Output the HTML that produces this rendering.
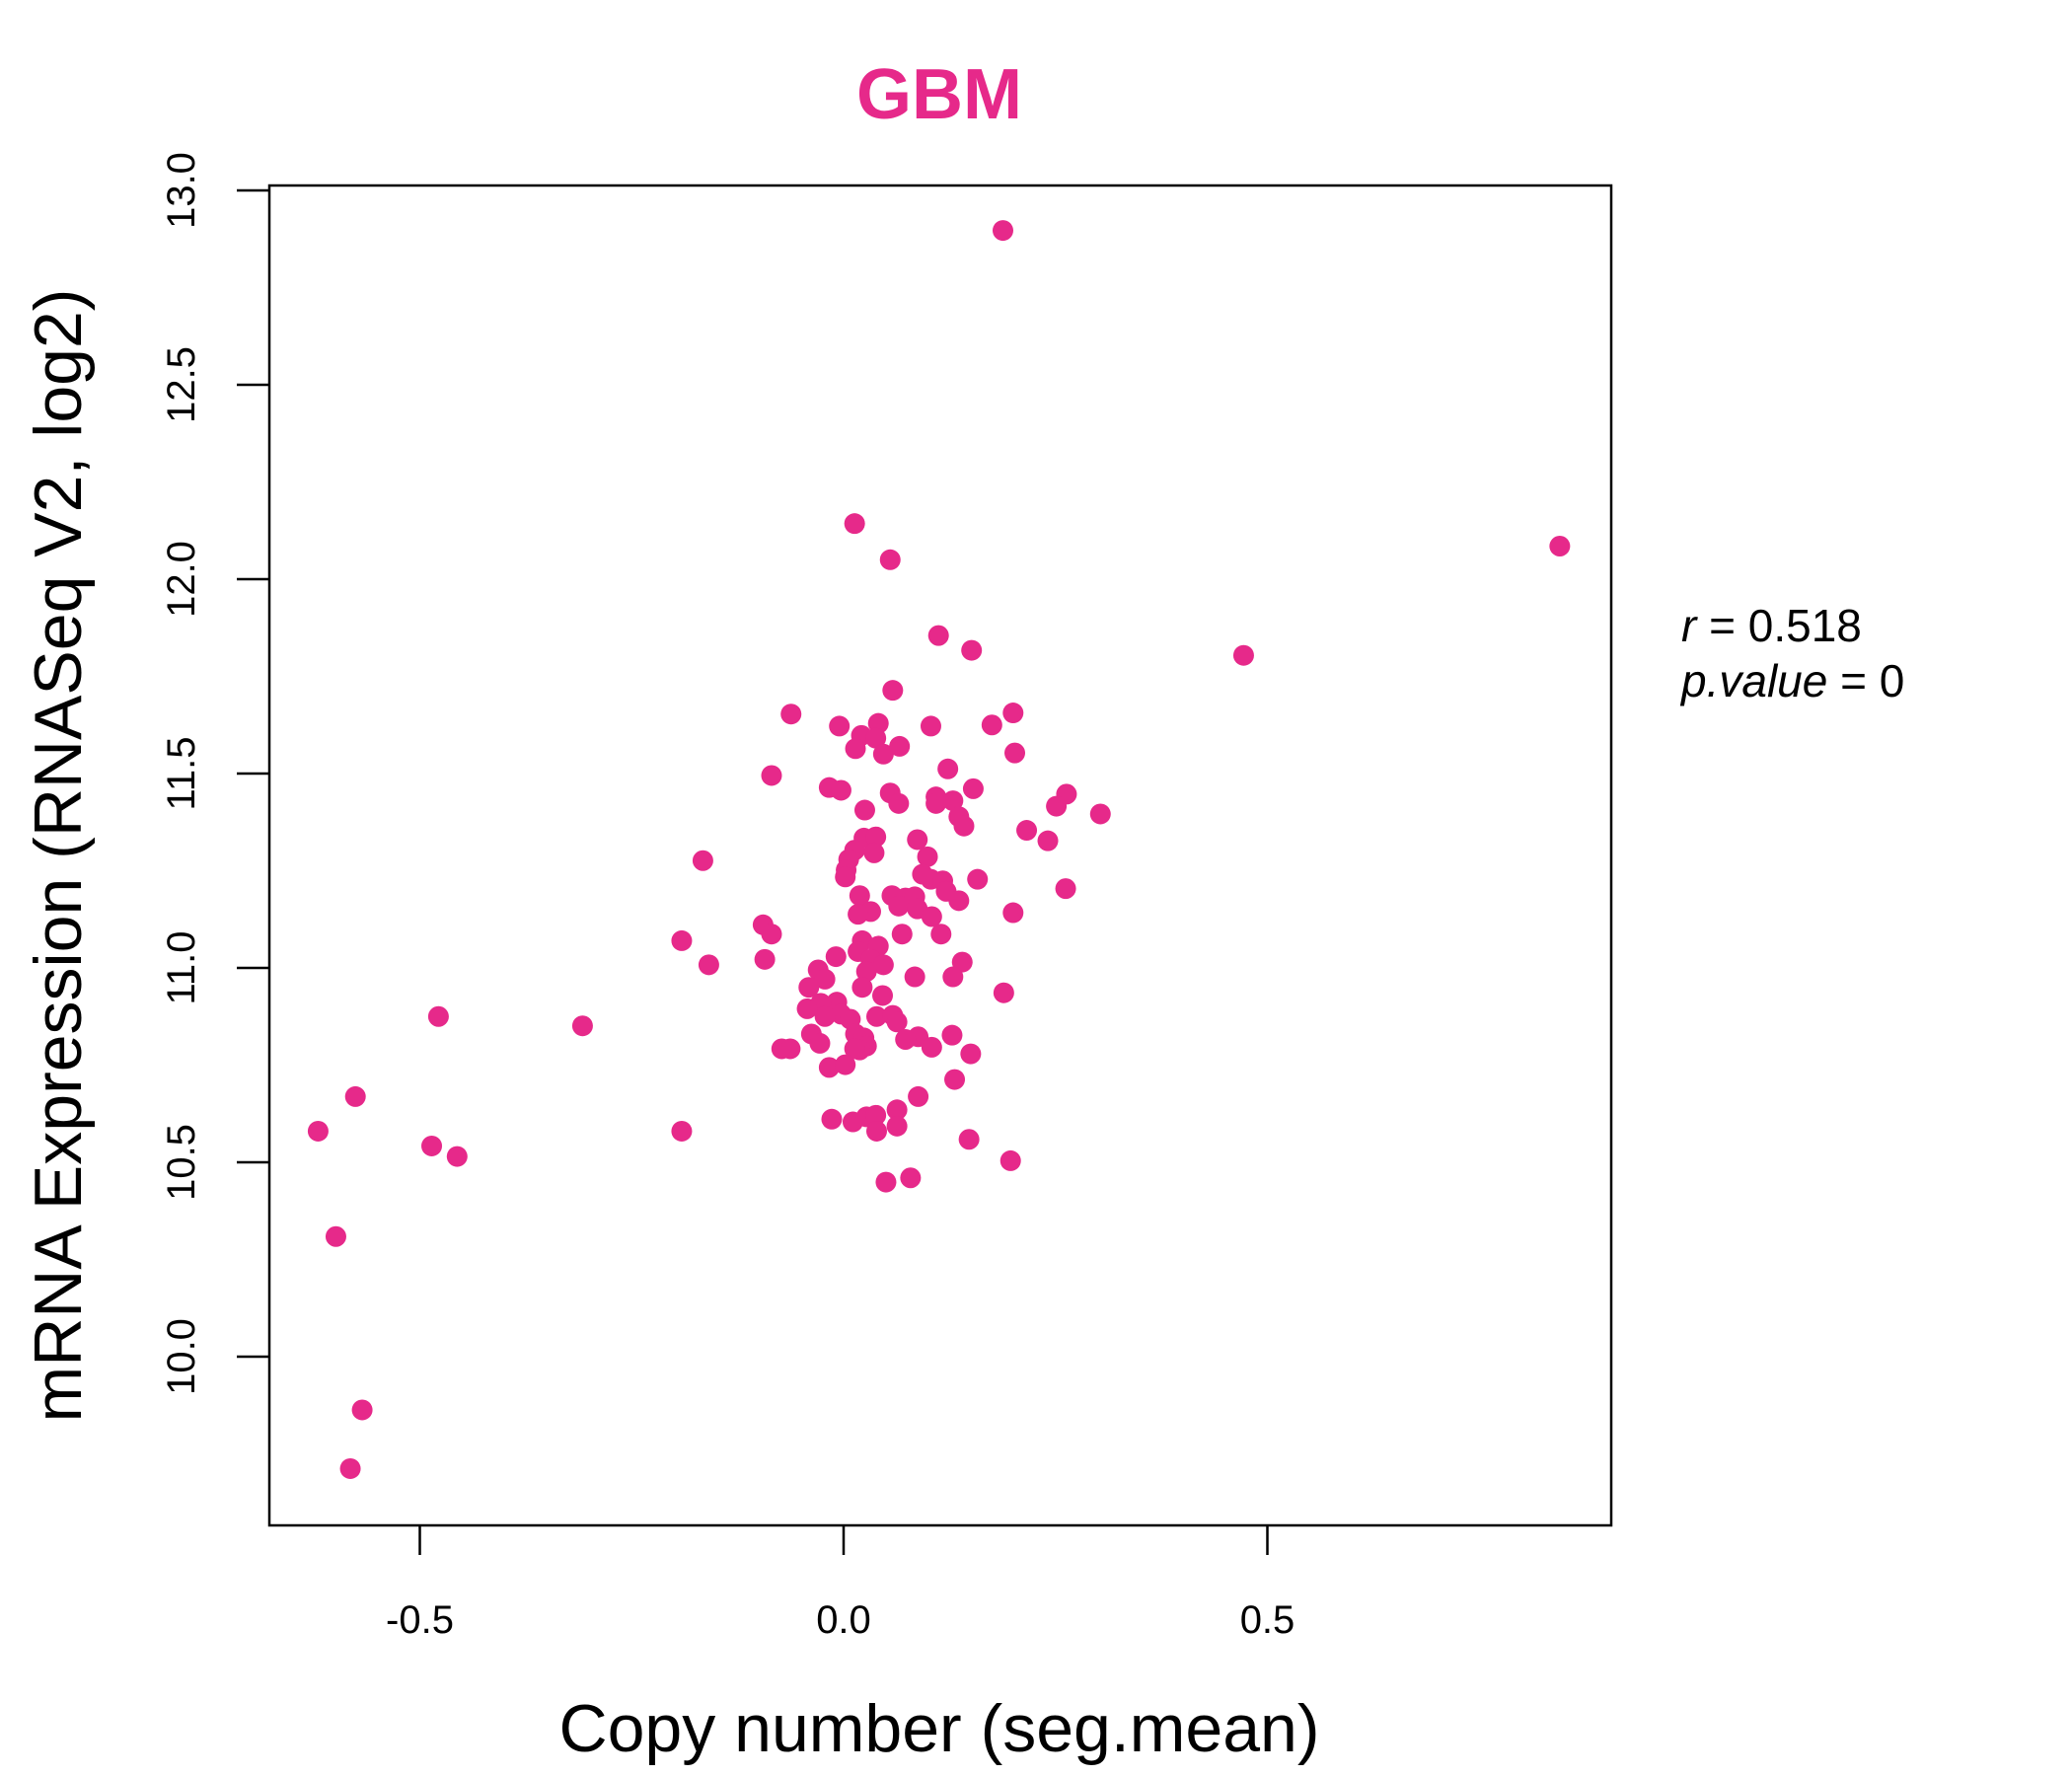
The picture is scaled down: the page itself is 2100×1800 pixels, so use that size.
<!DOCTYPE html>
<html><head><meta charset="utf-8"><style>
html,body{margin:0;padding:0;background:#fff;}
svg{display:block;font-family:"Liberation Sans",Arial,sans-serif;}
</style></head><body>
<svg id="chart" width="2100" height="1800" viewBox="0 0 2100 1800" xmlns="http://www.w3.org/2000/svg">
<text x="952" y="120" text-anchor="middle" font-size="72" font-weight="bold" fill="#E6298A">GBM</text>
<rect x="273" y="188" width="1360" height="1358" fill="none" stroke="#000" stroke-width="2.5"/>
<g id="xaxis"></g>
<g id="yaxis"></g>
<g id="points"></g>
<text x="952" y="1775" text-anchor="middle" font-size="68">Copy number (seg.mean)</text>
<text transform="translate(82,867) rotate(-90)" text-anchor="middle" font-size="68">mRNA Expression (RNASeq V2, log2)</text>
<text x="1704" y="650" font-size="46"><tspan font-style="italic">r</tspan> = 0.518</text>
<text x="1704" y="706" font-size="46"><tspan font-style="italic">p.value</tspan> = 0</text>
</svg>
<script>
const xTicks = [-0.5, 0.0, 0.5];
const xTickLabels = ["-0.5", "0.0", "0.5"];
const yTicks = [10.0, 10.5, 11.0, 11.5, 12.0, 12.5, 13.0];
const yTickLabels = ["10.0", "10.5", "11.0", "11.5", "12.0", "12.5", "13.0"];
const xValues = [.188,.013,.055,.845,.472,.112,.151,.058,-.062,-.005,.041,.103,.175,.200,.021,.014,.038,.047,.066,.202,-.085,.123,-.017,-.003,.055,.109,.065,.025,.153,.129,.109,.136,.142,.263,.251,.303,.216,.241,.024,.038,.013,.006,.036,.087,.099,-.166,.003,.002,.093,.103,.117,.158,.262,.019,.057,.073,.084,.121,.136,.065,.087,.032,.017,.200,.104,-.095,-.085,.069,.115,-.191,.022,.041,.017,-.093,-.009,.032,.047,-.159,.140,.027,-.030,.084,.129,-.022,-.041,.022,.046,.189,-.008,-.027,-.043,-.003,-.022,.039,.058,-.478,.008,-.308,.063,-.038,-.028,.014,.024,.088,.128,.073,.027,-.063,-.073,.104,.019,.013,.150,-.017,.002,.131,.088,-.576,-.014,.011,.027,.038,.063,.039,.063,-.191,-.620,-.486,-.456,.148,.197,.050,.079,-.599,-.568,-.582];
const yValues = [12.897,12.143,12.05,12.085,11.804,11.855,11.817,11.714,11.653,11.622,11.629,11.622,11.625,11.656,11.598,11.564,11.591,11.55,11.57,11.553,11.495,11.512,11.464,11.457,11.45,11.44,11.423,11.406,11.461,11.43,11.423,11.389,11.365,11.447,11.416,11.396,11.354,11.327,11.334,11.337,11.303,11.279,11.296,11.33,11.286,11.276,11.252,11.234,11.241,11.228,11.224,11.228,11.204,11.186,11.186,11.18,11.183,11.197,11.173,11.159,11.152,11.145,11.138,11.142,11.132,11.111,11.087,11.087,11.087,11.07,11.07,11.056,11.042,11.022,11.029,11.022,11.008,11.008,11.015,10.991,10.995,10.977,10.977,10.971,10.95,10.95,10.929,10.936,10.912,10.909,10.895,10.881,10.875,10.875,10.878,10.875,10.868,10.851,10.861,10.83,10.806,10.83,10.82,10.823,10.827,10.816,10.799,10.792,10.792,10.796,10.789,10.792,10.779,10.744,10.751,10.713,10.669,10.669,10.611,10.604,10.617,10.621,10.635,10.58,10.593,10.58,10.58,10.542,10.515,10.559,10.504,10.449,10.46,10.309,9.863,9.712];

const NS = "http://www.w3.org/2000/svg";
const xScale = v => 855 + v * 859;
const yScale = v => 193 + (13 - v) * 394;

const xg = document.getElementById('xaxis');
xTicks.forEach((t, i) => {
  const l = document.createElementNS(NS, 'line');
  
  
  l.setAttribute('x1', xScale(t)); l.setAttribute('x2', xScale(t));
  l.setAttribute('y1', 1546); l.setAttribute('y2', 1576);
  l.setAttribute('stroke', '#000'); l.setAttribute('stroke-width', '2.5');
  xg.appendChild(l);
  const tx = document.createElementNS(NS, 'text');
  
  
  tx.setAttribute('x', xScale(t)); tx.setAttribute('y', 1655);
  tx.setAttribute('text-anchor', 'middle'); tx.setAttribute('font-size', '40');
  tx.textContent = xTickLabels[i];
  xg.appendChild(tx);
});

const yg = document.getElementById('yaxis');
yTicks.forEach((t, i) => {
  const l = document.createElementNS(NS, 'line');
  
  
  l.setAttribute('x1', 240); l.setAttribute('x2', 273);
  l.setAttribute('y1', yScale(t)); l.setAttribute('y2', yScale(t));
  l.setAttribute('stroke', '#000'); l.setAttribute('stroke-width', '2.5');
  yg.appendChild(l);
  const tx = document.createElementNS(NS, 'text');
  
  
  tx.setAttribute('transform', 'translate(197,' + yScale(t) + ') rotate(-90)');
  tx.setAttribute('text-anchor', 'middle'); tx.setAttribute('font-size', '40');
  tx.textContent = yTickLabels[i];
  yg.appendChild(tx);
});

const pg = document.getElementById('points');
xValues.forEach((xv, i) => {
  const c = document.createElementNS(NS, 'circle');
  
  
  c.setAttribute('cx', xScale(xv)); c.setAttribute('cy', yScale(yValues[i]));
  c.setAttribute('r', 10.5); c.setAttribute('fill', '#E6298A');
  pg.appendChild(c);
});
</script>
</body></html>
